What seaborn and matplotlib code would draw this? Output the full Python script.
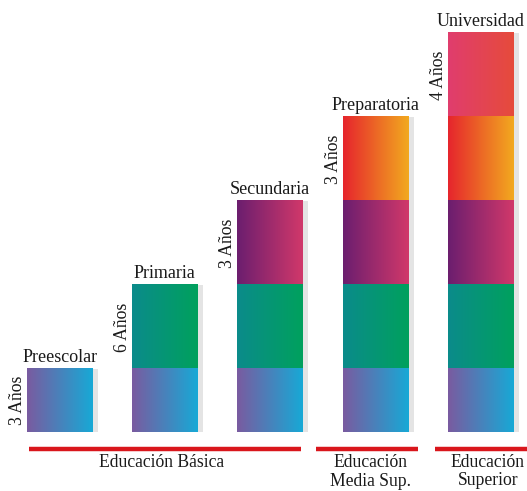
import numpy as np
import pandas as pd
import matplotlib
matplotlib.use("Agg")
import matplotlib.pyplot as plt
from matplotlib.colors import to_rgb
from matplotlib.patches import Rectangle
import seaborn as sns

# Education levels, their duration and the height of each stair step
levels = ["Preescolar", "Primaria", "Secundaria", "Preparatoria", "Universidad"]
durations = ["3 Años", "6 Años", "3 Años", "3 Años", "4 Años"]
step_heights = [0.75, 1.0, 1.0, 1.0, 1.0]

# Left/right colours of each step's horizontal gradient
grad_left = ["#7a5ba0", "#0b8b8b", "#6b1e6f", "#e6252d", "#e03d6e"]
grad_right = ["#17a9d6", "#00a15d", "#d1386a", "#f2a91f", "#e64b3b"]

# Stage groups under the stairs
groups = ["Educación Básica", "Educación\nMedia Sup.", "Educación\nSuperior"]

BAR_W = 0.618
SHADOW_W = 0.057
RED = "#d9161c"
TEXT = "#1a1a1a"

sns.set_theme(style="white")
plt.rcParams["font.family"] = ["Liberation Serif", "DejaVu Serif"]

fig = plt.figure(figsize=(5.27, 4.91), dpi=100)
ax = fig.add_axes([0, 0, 1, 1])

tops = np.cumsum(step_heights)

# Each bar is a stack of all steps up to its own level: draw cumulative tops overlaid
rows = []
for k in reversed(range(len(levels))):
    for i in range(k, len(levels)):
        rows.append({"nivel": levels[i], "tramo": levels[k], "altura": tops[k]})
df = pd.DataFrame(rows)
sns.barplot(data=df, x="nivel", y="altura", hue="tramo", hue_order=levels[::-1],
            order=levels, dodge=False, width=BAR_W, legend=False, errorbar=None, ax=ax)


def gradient(c0, c1, n=256):
    t = np.linspace(0, 1, n)[None, :, None]
    return (1 - t) * np.array(to_rgb(c0)) + t * np.array(to_rgb(c1))


for p in list(ax.patches):
    x0, w, h = p.get_x(), p.get_width(), p.get_height()
    if h <= 0:
        continue
    i = int(round(x0 + w / 2))
    k = int(np.argmin(np.abs(tops - h)))
    p.set_visible(False)
    bottom = tops[k] - step_heights[k]
    ax.imshow(gradient(grad_left[k], grad_right[k]), extent=(x0, x0 + w, bottom, tops[k]),
              aspect="auto", interpolation="bilinear", zorder=3)
    if k == i:
        ax.add_patch(Rectangle((x0 + w, 0), SHADOW_W, tops[k], facecolor="#e4e4e4",
                               edgecolor="none", zorder=2))

for i, (name, dur) in enumerate(zip(levels, durations)):
    ax.annotate(name, xy=(i, tops[i]), xytext=(0, 2.5), textcoords="offset points",
                ha="center", va="bottom", fontsize=13, color=TEXT)
    ax.annotate(dur, xy=(i - BAR_W / 2, tops[i] - step_heights[i] / 2), xytext=(-0.8, 0),
                textcoords="offset points", rotation=90, ha="right", va="center",
                fontsize=12.7, color=TEXT)

# Red brackets and stage names
line_y = -0.202
spans = [(-0.291, 2.295), (2.437, 3.407), (3.568, 4.5)]
label_pos = [(0.973, -0.36), (2.951, -0.48), (4.072, -0.47)]
for (a, b), text, (lx, ly) in zip(spans, groups, label_pos):
    ax.plot([a, b], [line_y, line_y], color=RED, lw=3.2, solid_capstyle="butt", zorder=3)
    ax.text(lx, ly, text, ha="center", va="center", fontsize=12.7, color=TEXT,
            linespacing=1.15)

ax.set_xlim(-0.5665, 4.443)
ax.set_ylim(-0.702, 5.143)
ax.set_axis_off()

fig.savefig("out.png", dpi=100)
